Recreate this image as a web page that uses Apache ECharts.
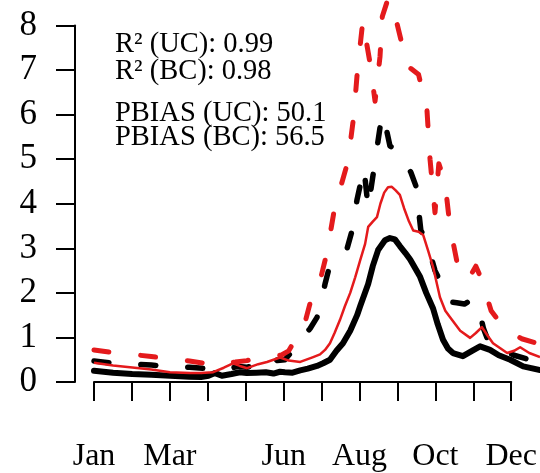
<!DOCTYPE html>
<html>
<head>
<meta charset="utf-8">
<script src="https://cdn.jsdelivr.net/npm/echarts@6/dist/echarts.min.js"></script>
<style>
  html, body { margin: 0; padding: 0; background: #ffffff; }
  #chart { width: 540px; height: 473px; }
</style>
</head>
<body>
<div id="chart"></div>
<script>
// x values are in month units: 1 = start of Jan, 12 = start of Dec
const months = ['Jan','Feb','Mar','Apr','May','Jun','Jul','Aug','Sep','Oct','Nov','Dec'];
const shownMonths = ['Jan','Mar','Jun','Aug','Oct','Dec'];
const yTicks = [0,1,2,3,4,5,6,7,8];

const statLines = [
  'R\u00B2 (UC): 0.99',
  'R\u00B2 (BC): 0.98',
  'PBIAS (UC): 50.1',
  'PBIAS (BC): 56.5'
];

// black solid
const blackSolid = [[1.0,0.25],[1.5,0.21],[2.0,0.18],[2.5,0.16],[3.0,0.14],[3.5,0.12],[3.8,0.11],[4.0,0.14],[4.17,0.2],[4.35,0.14],[4.6,0.18],[4.82,0.22],[5.0,0.2],[5.25,0.21],[5.5,0.22],[5.7,0.19],[5.87,0.23],[6.0,0.22],[6.2,0.21],[6.4,0.26],[6.6,0.30],[6.84,0.36],[7.0,0.42],[7.18,0.5],[7.35,0.7],[7.52,0.87],[7.71,1.15],[7.89,1.5],[7.97,1.7],[8.18,2.2],[8.3,2.6],[8.44,2.96],[8.62,3.18],[8.75,3.23],[8.88,3.2],[9.01,3.05],[9.15,2.9],[9.28,2.75],[9.54,2.36],[9.7,2.0],[9.88,1.65],[10.0,1.3],[10.14,0.95],[10.27,0.75],[10.4,0.65],[10.66,0.58],[10.9,0.7],[11.11,0.8],[11.37,0.72],[11.6,0.6],[11.9,0.5],[12.24,0.35],[12.68,0.27]];

// black dashed
const blackDashed = [[1.0,0.47],[1.5,0.42],[2.0,0.4],[2.5,0.38],[3.0,0.35],[3.5,0.33],[4.0,0.3],[4.2,0.35],[4.5,0.3],[4.8,0.35],[5.0,0.33],[5.3,0.4],[5.5,0.5],[5.65,0.58],[5.8,0.48],[6.0,0.5],[6.15,0.65],[6.29,0.88],[6.45,1.0],[6.66,1.2],[6.84,1.45],[6.92,1.65],[7.05,2.2],[7.2,2.7],[7.44,2.85],[7.63,3.0],[7.76,3.4],[7.89,4.1],[8.07,4.8],[8.18,3.9],[8.36,4.95],[8.54,6.0],[8.65,5.7],[8.75,5.3],[8.96,5.15],[9.15,4.95],[9.3,4.7],[9.43,4.4],[9.56,3.4],[9.7,3.2],[9.93,2.5],[10.1,2.2],[10.3,1.8],[10.5,1.78],[10.7,1.75],[10.9,1.85],[11.06,1.7],[11.2,1.2],[11.37,0.82],[11.63,0.75],[12.0,0.6],[12.4,0.5],[12.68,0.5]];

// red solid
const redSolid = [[1.0,0.43],[1.5,0.37],[1.94,0.33],[2.5,0.28],[2.99,0.22],[3.51,0.2],[3.8,0.2],[4.12,0.22],[4.4,0.32],[4.64,0.42],[4.82,0.36],[5.01,0.31],[5.3,0.4],[5.53,0.45],[5.7,0.5],[5.87,0.55],[6.1,0.48],[6.4,0.45],[6.74,0.56],[6.92,0.62],[7.05,0.72],[7.18,0.87],[7.3,1.1],[7.44,1.39],[7.57,1.7],[7.71,2.0],[7.84,2.35],[7.97,2.73],[8.1,3.1],[8.18,3.48],[8.3,3.6],[8.41,3.7],[8.5,4.0],[8.6,4.25],[8.7,4.37],[8.8,4.38],[8.9,4.3],[9.01,4.2],[9.12,3.9],[9.25,3.6],[9.36,3.4],[9.5,3.37],[9.62,3.3],[9.75,2.95],[9.88,2.58],[10.06,1.9],[10.2,1.6],[10.32,1.46],[10.59,1.15],[10.85,0.99],[11.0,1.1],[11.16,1.23],[11.3,1.05],[11.45,0.87],[11.82,0.65],[12.0,0.7],[12.16,0.78],[12.4,0.65],[12.68,0.56]];

// red dashed
const redDashed = [[1.0,0.72],[1.5,0.66],[2.0,0.62],[2.5,0.57],[3.0,0.52],[3.5,0.47],[3.9,0.42],[4.0,0.47],[4.3,0.42],[4.7,0.45],[5.0,0.48],[5.5,0.58],[5.9,0.6],[6.1,0.7],[6.3,1.0],[6.5,1.25],[6.7,1.9],[6.9,2.2],[7.1,2.9],[7.3,3.9],[7.5,4.5],[7.65,4.95],[7.8,5.95],[7.9,7.0],[8.04,8.1],[8.22,7.2],[8.36,6.3],[8.49,7.3],[8.55,8.2],[8.7,8.6],[8.92,8.1],[9.2,7.1],[9.5,6.9],[9.72,6.1],[9.8,5.0],[9.93,3.8],[10.03,4.9],[10.19,4.5],[10.32,3.5],[10.55,2.5],[10.8,2.3],[11.0,2.6],[11.15,2.3],[11.4,1.6],[11.7,1.25],[12.2,0.97],[12.68,0.85]];

const FONT = 'Liberation Serif';
const RED = '#e41a1c';

const chart = echarts.init(document.getElementById('chart'), null, {renderer: 'canvas'});

const statY = [45, 71.5, 114, 137.5];

chart.setOption({
  animation: false,
  backgroundColor: '#ffffff',
  grid: [
    {left: 94, right: 0, top: 25.5, height: 356.5},
    {left: 94, width: 420, top: 25.5, height: 356.5}
  ],
  xAxis: [
    {gridIndex: 0, type: 'value', min: 1, max: 12.68, show: false},
    {
      gridIndex: 1, type: 'value', min: 1, max: 12, interval: 1, offset: 14,
      axisLine: {show: true, lineStyle: {color: '#000', width: 2}},
      axisTick: {show: true, length: 19, inside: false, lineStyle: {color: '#000', width: 2}},
      splitLine: {show: false},
      axisLabel: {
        show: true, margin: 45, color: '#000', fontFamily: FONT, fontSize: 32,
        formatter: function (v) {
          const name = months[Math.round(v) - 1];
          return shownMonths.indexOf(name) >= 0 ? name : '';
        }
      }
    }
  ],
  yAxis: [
    {
      gridIndex: 0, type: 'value', min: yTicks[0], max: yTicks[yTicks.length - 1], interval: 1, offset: 19,
      axisLine: {show: true, lineStyle: {color: '#000', width: 2}},
      axisTick: {show: true, length: 19, inside: false, lineStyle: {color: '#000', width: 2}},
      splitLine: {show: false},
      axisLabel: {show: true, margin: 38, color: '#000', fontFamily: FONT, fontSize: 35, padding: [6, 0, 0, 0]}
    },
    {gridIndex: 1, type: 'value', min: 0, max: 8, show: false}
  ],
  graphic: statLines.map(function (t, i) {
    return {
      type: 'text', left: 115, top: statY[i] - 14.5,
      style: {text: t, fill: '#000', font: '28.5px "' + FONT + '"', textVerticalAlign: 'top'}
    };
  }),
  series: [
    {type: 'line', xAxisIndex: 0, yAxisIndex: 0, data: blackSolid, showSymbol: false, clip: false,
      lineStyle: {color: '#000', width: 6, join: 'round', cap: 'round'}},
    {type: 'line', xAxisIndex: 0, yAxisIndex: 0, data: blackDashed, showSymbol: false, clip: false,
      lineStyle: {color: '#000', width: 5.5, type: [15, 32], cap: 'round', join: 'round'}},
    {type: 'line', xAxisIndex: 0, yAxisIndex: 0, data: redSolid, showSymbol: false, clip: false,
      lineStyle: {color: RED, width: 2.5, join: 'round'}},
    {type: 'line', xAxisIndex: 0, yAxisIndex: 0, data: redDashed, showSymbol: false, clip: false,
      lineStyle: {color: RED, width: 5, type: [15, 32], cap: 'round', join: 'round'}},
    {type: 'line', xAxisIndex: 1, yAxisIndex: 1, data: [], showSymbol: false}
  ]
});
</script>
</body>
</html>
